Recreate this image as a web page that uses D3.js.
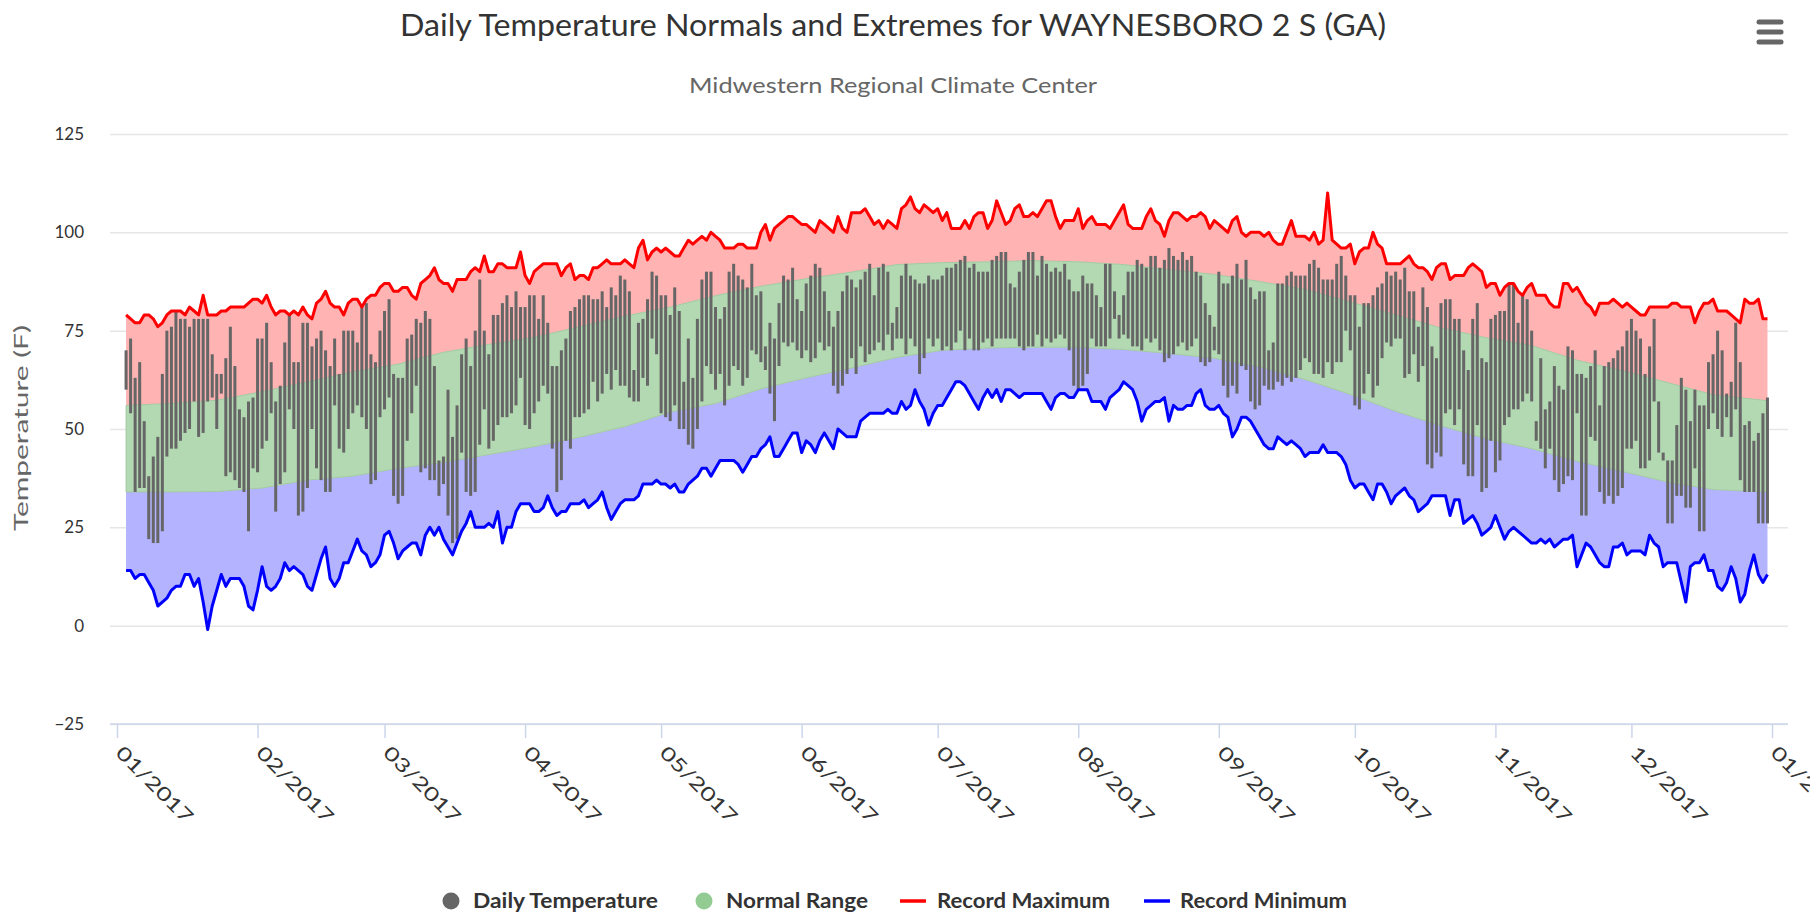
<!DOCTYPE html>
<html>
<head>
<meta charset="utf-8">
<title>Daily Temperature Normals and Extremes</title>
<script src="https://cdn.jsdelivr.net/npm/d3@7.9.0/dist/d3.min.js"></script>
<style>
  html, body { margin: 0; padding: 0; background: #fff; }
  svg { display: block; font-family: Lato, "Noto Sans", sans-serif; }
</style>
</head>
<body>
<svg id="chart" width="1810" height="914"></svg>
<script>
// ---- data (2017, values in deg F) ----
// daily series start on Jan 3 (day-of-year 2) and run to Dec 31
const firstDay = 2;

const recordMax = [
  79,78,77,77,79,79,78,76,77,79, 80,80,80,79,81,80,79,84,79,79,
  79,80,80,81,81,81,81,82,83,83, 82,84,81,79,80,80,79,80,79,81,
  79,78,82,83,85,82,81,81,79,82, 83,83,81,83,84,84,86,87,87,85,
  85,86,86,84,83,87,88,89,91,88, 87,87,85,88,88,88,90,91,90,94,
  90,90,92,92,91,91,91,95,89,87, 90,91,92,92,92,92,89,91,92,88,
  89,89,88,91,91,92,93,92,92,92, 93,92,91,96,98,93,95,96,95,96,
  95,94,94,96,98,97,98,99,98,100, 99,98,96,96,96,97,97,96,96,96,
  100,102,98,101,102,103,104,104,103,102, 102,101,100,103,102,101,100,104,101,100,
  105,105,105,106,104,102,103,101,103,102, 101,106,107,109,106,105,107,106,105,106,
  103,105,101,101,101,103,101,104,105,105, 101,103,108,105,102,103,106,107,104,104,
  105,104,106,108,108,104,101,103,103,103, 106,101,103,104,102,102,102,101,103,105,
  107,102,101,101,101,104,106,103,102,99, 103,105,105,104,103,104,104,105,104,101,
  103,102,101,100,103,104,100,99,100,100, 100,99,100,98,97,97,100,103,99,99,
  99,98,100,97,98,110,98,97,96,96, 97,92,95,96,96,100,97,96,92,92,
  92,92,93,94,92,91,91,90,88,91, 92,92,88,89,89,89,91,92,91,90,
  86,87,87,84,86,87,87,85,84,86, 87,84,84,84,82,81,81,87,87,85,
  86,84,82,81,79,82,82,82,83,82, 81,82,81,80,79,79,81,81,81,81,
  81,82,82,81,81,81,77,80,82,82, 83,80,80,80,79,78,77,83,82,82,
  83,78,78
];

const recordMin = [
  14,14,12,13,13,11,9,5,6,7, 9,10,10,13,13,10,12,6,-1,5,
  9,13,10,12,12,12,10,5,4,9, 15,10,9,10,12,16,14,15,14,13,
  10,9,13,17,20,12,10,12,16,16, 19,22,19,18,15,16,18,23,24,21,
  17,19,20,21,21,18,23,25,23,25, 22,20,18,21,24,26,29,25,25,25,
  26,25,29,21,25,25,29,31,31,31, 29,29,30,33,30,28,29,29,31,31,
  31,32,30,31,32,34,30,27,29,31, 32,32,32,33,36,36,36,37,36,36,
  35,36,34,34,36,37,38,40,40,38, 40,42,42,42,42,41,39,41,43,43,
  45,46,48,43,43,45,47,49,49,44, 47,46,44,47,49,47,45,50,49,48,
  48,48,52,53,54,54,54,54,55,54, 54,57,55,56,60,57,55,51,54,56,
  56,58,60,62,62,61,59,57,55,58, 60,58,60,57,60,60,59,58,59,59,
  59,59,59,57,55,58,59,59,58,58, 60,60,60,57,57,57,55,58,59,60,
  62,61,60,57,52,55,56,57,57,58, 52,56,55,55,56,56,59,60,56,55,
  55,56,54,53,48,50,53,53,52,50, 48,46,45,45,48,47,46,47,46,45,
  43,44,44,44,46,44,44,44,43,41, 37,35,36,36,34,32,36,36,34,31,
  33,34,35,33,32,29,30,31,33,33, 33,33,28,32,32,26,27,28,26,23,
  24,25,28,25,22,24,25,24,23,22, 21,21,22,21,22,20,21,22,22,23,
  15,18,21,20,18,16,15,15,20,20, 21,18,19,19,19,18,23,21,20,15,
  16,16,16,11,6,15,16,16,18,14, 14,10,9,11,15,12,6,8,14,18,
  13,11,13
];

const dailyHigh = [
  70,73,63,67,52,38,43,48,64,75, 76,80,78,78,76,78,78,78,78,69,
  64,64,68,76,66,55,53,57,58,73, 73,77,67,57,61,72,79,67,67,77,
  77,71,73,75,70,66,73,64,75,75, 75,72,81,82,69,67,75,80,83,64,
  63,63,73,74,78,77,80,78,66,42, 43,60,48,56,69,73,66,75,88,75,
  69,79,79,82,84,81,85,81,81,84, 84,78,84,77,66,66,70,73,80,81,
  83,84,84,83,83,85,81,86,84,89, 88,85,65,77,78,83,90,89,84,84,
  79,86,80,62,73,63,78,88,90,90, 81,78,81,90,92,89,88,86,92,84,
  85,71,77,73,82,89,88,91,83,80, 87,89,92,91,85,80,76,80,85,89,
  88,86,88,90,92,84,91,92,90,77, 81,89,92,89,88,87,87,89,88,88,
  89,91,91,92,93,94,91,92,90,90, 90,93,94,95,95,87,86,90,93,95,
  95,89,94,92,90,91,90,92,88,85, 85,89,87,87,84,81,92,92,85,79,
  84,90,90,93,92,91,94,94,91,93, 96,94,93,95,93,94,90,89,82,79,
  76,90,87,87,89,92,88,93,86,83, 85,85,70,72,87,87,89,90,89,89,
  89,92,93,91,88,88,88,92,94,89, 84,84,76,82,82,84,86,87,90,89,
  90,88,91,85,85,76,86,81,71,68, 82,83,83,78,78,70,65,78,82,68,
  67,78,79,80,80,87,87,77,84,83, 75,52,68,55,57,66,61,60,71,70,
  64,64,63,66,70,56,66,67,68,70, 71,75,78,75,73,64,71,78,57,44,
  42,42,51,63,60,52,60,56,56,67, 69,75,70,59,62,77,67,51,52,47,
  49,54,58
];

const dailyLow = [
  60,54,34,35,35,22,21,21,24,43, 45,45,47,49,50,57,48,49,57,58,
  50,59,38,39,37,35,34,24,40,39, 45,47,54,29,36,39,55,50,28,29,
  35,50,40,37,34,34,56,45,44,50, 54,56,53,50,36,37,53,55,58,33,
  31,33,47,54,61,39,40,37,37,33, 36,28,21,22,44,34,33,34,46,55,
  45,47,51,53,53,54,56,63,51,50, 54,57,61,59,45,34,37,47,45,53,
  53,54,55,62,57,59,64,60,65,61, 61,58,57,57,63,61,73,69,54,53,
  52,56,50,50,46,45,50,57,66,64, 60,64,56,61,66,65,61,63,70,69,
  67,65,59,52,66,72,71,72,70,68, 70,67,68,72,70,71,61,59,61,64,
  68,64,71,67,69,70,72,70,74,70, 73,73,69,73,71,64,68,73,71,73,
  70,71,70,72,75,70,73,70,70,72, 73,71,73,73,73,73,73,71,70,71,
  71,74,71,73,72,73,74,73,70,61, 60,61,64,73,71,71,71,73,78,73,
  74,73,71,71,70,73,72,73,70,67, 68,69,71,72,70,71,73,67,66,67,
  70,69,61,58,61,59,66,65,57,55, 56,61,60,60,62,61,63,62,63,65,
  68,67,64,64,63,67,64,67,67,75, 70,56,55,59,64,58,61,68,72,71,
  73,73,63,64,69,62,66,41,40,44, 43,54,55,51,55,41,38,38,51,34,
  35,47,39,42,51,53,55,55,57,59, 57,47,45,40,45,37,34,36,38,37,
  54,28,28,48,47,34,31,33,31,33, 35,45,45,47,40,40,42,57,44,42,
  26,26,33,33,30,30,40,24,24,50, 54,50,48,53,48,55,37,34,34,34,
  26,26,26
];

// normal range, read every ten days (day of year)
const normalDays = [2,12,22,32,42,52,62,72,82,92,102,112,122,132,142,152,162,172,182,
  192,202,212,222,232,242,252,262,272,282,292,302,312,322,332,342,352,364];
const normalHigh = [56.0,56.5,57.3,59.5,62.0,64.5,66.5,69.5,71.5,73.3,76.0,78.7,81.0,83.9,86.3,
  88.2,89.9,91.8,92.3,92.5,92.8,92.5,91.8,90.5,89.3,87.5,85.5,82.3,79.0,75.7,73.2,71.2,
  67.5,64.8,61.8,58.7,57.2];
const normalLow = [34.0,34.0,34.1,35.0,37.0,38.0,40.0,41.5,43.5,45.5,47.9,50.6,54.3,56.5,60.2,
  63.0,65.5,68.2,70.0,70.6,70.8,70.8,70.2,69.2,68.0,65.8,62.6,58.8,54.5,50.8,47.5,45.0,
  41.8,39.2,36.5,34.6,34.0];

const yTicks = [-25, 0, 25, 50, 75, 100, 125];
const monthLabels = ['01/2017','02/2017','03/2017','04/2017','05/2017','06/2017','07/2017',
  '08/2017','09/2017','10/2017','11/2017','12/2017','01/2018'];
const legendLabels = ['Daily Temperature', 'Normal Range', 'Record Maximum', 'Record Minimum'];

const titleText = 'Daily Temperature Normals and Extremes for WAYNESBORO 2 S (GA)';
const subtitleText = 'Midwestern Regional Climate Center';
const yTitle = 'Temperature (F)';

// ---- chart ----
const svg = d3.select('#chart');
const plot = { left: 110, right: 1788, top: 134, bottom: 724 };

const jan1 = Date.UTC(2017, 0, 1);
const dayDate = (doy) => new Date(jan1 + doy * 864e5);
const monthTicks = monthLabels.map((_, m) => new Date(Date.UTC(2017, m, 1)));

let x = d3.scaleUtc()
  .domain([monthTicks[0], monthTicks[12]])
  .range([117, 1772]);
let y = d3.scaleLinear()
  .domain([-25, 125])
  .range([plot.bottom, plot.top]);

// title + subtitle
svg.append('text')
  .attr('x', 893).attr('y', 36)
  .attr('text-anchor', 'middle')
  .attr('font-size', 30).attr('fill', '#333')
  .attr('textLength', 986).attr('lengthAdjust', 'spacingAndGlyphs')
  .text(titleText);
svg.append('text')
  .attr('x', 893).attr('y', 93)
  .attr('text-anchor', 'middle')
  .attr('font-size', 22).attr('fill', '#666')
  .attr('textLength', 408).attr('lengthAdjust', 'spacingAndGlyphs')
  .text(subtitleText);

// menu icon
[22, 32, 42].forEach((yy) => {
  svg.append('line')
    .attr('x1', 1759).attr('x2', 1781).attr('y1', yy).attr('y2', yy)
    .attr('stroke', '#666').attr('stroke-width', 5).attr('stroke-linecap', 'round');
});

// y axis with grid
const yAxis = svg.append('g')
  .attr('transform', `translate(${plot.left},0)`)
  .call(d3.axisLeft(y).tickValues(yTicks).tickSize(-(plot.right - plot.left)).tickPadding(26));
yAxis.select('.domain').remove();
yAxis.selectAll('line').attr('stroke', '#e6e6e6').attr('stroke-width', 1.5);
yAxis.selectAll('text')
  .attr('font-size', 17).attr('fill', '#333')
  .attr('font-family', 'Lato, "Noto Sans", sans-serif');

svg.append('text')
  .attr('transform', `translate(28,428) rotate(-90)`)
  .attr('text-anchor', 'middle')
  .attr('font-size', 20).attr('fill', '#666')
  .attr('textLength', 206).attr('lengthAdjust', 'spacingAndGlyphs')
  .text(yTitle);

// bands: record max -> normal high (red), normal range (green), normal low -> record min (blue)
const dailyX = (i) => x(dayDate(i + firstDay));
const normX = (i) => x(dayDate(normalDays[i]));

let redPts = recordMax.map((v, i) => [dailyX(i), y(v)])
  .concat(normalHigh.map((v, i) => [normX(i), y(v)]).reverse());
let bluePts = normalLow.map((v, i) => [normX(i), y(v)])
  .concat(recordMin.map((v, i) => [dailyX(i), y(v)]).reverse());

svg.append('path')
  .attr('d', d3.line()(redPts) + 'Z')
  .attr('fill', '#ffb3b3');
svg.append('path')
  .attr('d', d3.line()(bluePts) + 'Z')
  .attr('fill', '#b3b3ff');

let normalArea = d3.area()
  .x((d, i) => normX(i))
  .y0((d, i) => y(normalLow[i]))
  .y1((d) => y(d));
svg.append('path')
  .attr('d', normalArea(normalHigh))
  .attr('fill', '#b3d9b3')
  .attr('stroke', '#a3c9a3')
  .attr('stroke-width', 1);

// daily temperature bars
svg.append('g')
  .selectAll('rect')
  .data(dailyHigh)
  .join('rect')
  .attr('x', (d, i) => dailyX(i) - 1.5)
  .attr('width', 3)
  .attr('y', (d) => y(d))
  .attr('height', (d, i) => y(dailyLow[i]) - y(d))
  .attr('fill', '#666');

// record lines
let recLine = d3.line()
  .x((d, i) => dailyX(i))
  .y((d) => y(d));
svg.append('path')
  .attr('d', recLine(recordMax))
  .attr('fill', 'none').attr('stroke', '#ff0000')
  .attr('stroke-width', 3).attr('stroke-linejoin', 'round');
svg.append('path')
  .attr('d', recLine(recordMin))
  .attr('fill', 'none').attr('stroke', '#0000ff')
  .attr('stroke-width', 3).attr('stroke-linejoin', 'round');

// x axis
svg.append('line')
  .attr('x1', plot.left).attr('x2', plot.right)
  .attr('y1', plot.bottom).attr('y2', plot.bottom)
  .attr('stroke', '#ccd6eb').attr('stroke-width', 1.5);

const xAxis = svg.append('g')
  .attr('transform', `translate(0,${plot.bottom})`)
  .call(d3.axisBottom(x).tickValues(monthTicks).tickFormat((d, i) => monthLabels[i]).tickSize(14).tickSizeOuter(0));
xAxis.select('.domain').remove();
xAxis.selectAll('line').attr('stroke', '#ccd6eb').attr('stroke-width', 1.5);
xAxis.selectAll('text')
  .attr('x', 0).attr('y', 0).attr('dy', 0)
  .attr('text-anchor', 'start')
  .attr('transform', 'translate(-3,30) rotate(45)')
  .attr('font-size', 19).attr('fill', '#333')
  .attr('font-family', 'Lato, "Noto Sans", sans-serif')
  .attr('textLength', 100).attr('lengthAdjust', 'spacingAndGlyphs');

// legend
const legendY = 901;
const legend = svg.append('g');
const legendLayout = [
  { cx: 451, tx: 473, w: 185, kind: 'circle', color: '#666' },
  { cx: 704, tx: 726, w: 142, kind: 'circle', color: '#93cc93' },
  { cx: 913, tx: 937, w: 173, kind: 'line', color: '#ff0000' },
  { cx: 1157, tx: 1180, w: 167, kind: 'line', color: '#0000ff' }
];
legendLabels.forEach((label, i) => {
  let it = legendLayout[i];
  if (it.kind === 'circle') {
    legend.append('circle').attr('cx', it.cx).attr('cy', legendY).attr('r', 8.5).attr('fill', it.color);
  } else {
    legend.append('line')
      .attr('x1', it.cx - 13).attr('x2', it.cx + 13)
      .attr('y1', legendY).attr('y2', legendY)
      .attr('stroke', it.color).attr('stroke-width', 3.5);
  }
  legend.append('text')
    .attr('x', it.tx).attr('y', legendY + 7)
    .attr('font-size', 20).attr('font-weight', 'bold').attr('fill', '#333')
    .attr('textLength', it.w).attr('lengthAdjust', 'spacingAndGlyphs')
    .text(label);
});
</script>
</body>
</html>
